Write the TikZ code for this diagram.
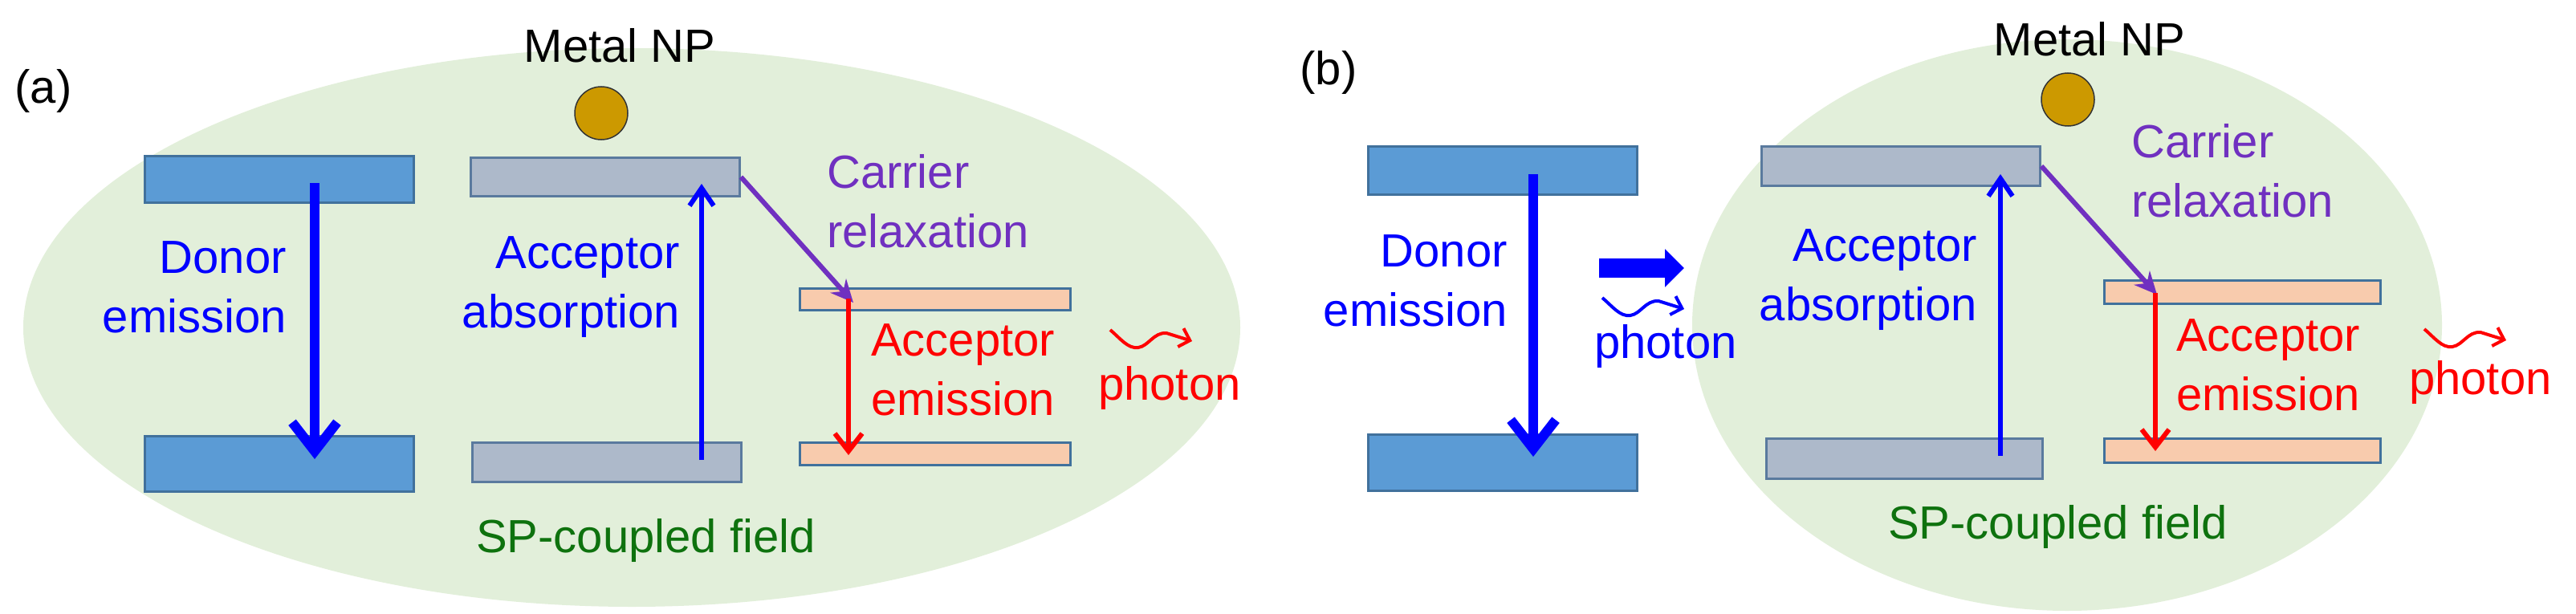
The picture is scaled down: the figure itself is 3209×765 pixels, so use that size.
\documentclass[tikz,border=0pt]{standalone}
\usepackage{fontspec}
\setmainfont{Liberation Sans}
\usetikzlibrary{arrows.meta,shapes.geometric}
\definecolor{fieldg}{HTML}{E2EFDA}
\definecolor{donb}{HTML}{5B9BD5}
\definecolor{donbd}{HTML}{41719C}
\definecolor{accg}{HTML}{ADB9CA}
\definecolor{accgd}{HTML}{5A7A9E}
\definecolor{orng}{HTML}{F8CBAD}
\definecolor{npc}{HTML}{CC9900}
\definecolor{purp}{HTML}{7030C0}
\definecolor{dgreen}{HTML}{0E720E}
\tikzset{
  lbl/.style={font=\fontsize{58}{74}\selectfont, inner sep=0},
  rl/.style={lbl, align=right, anchor=east},
  ll/.style={lbl, align=left, anchor=west},
  bar/.style={line width=3pt, inner sep=0, anchor=north west},
  donbar/.style={bar, draw=donbd, fill=donb},
  accbar/.style={bar, draw=accgd, fill=accg},
  orbar/.style={bar, draw=donbd, fill=orng},
  field/.style={fill=fieldg, draw=none},
  np/.style={circle, fill=npc, draw=black!80, line width=1.5pt, minimum size=66pt, inner sep=0},
  donarr/.style={blue, line width=12pt, -{Straight Barb[length=36pt,width=56pt,line width=12pt]}},
  absarr/.style={blue, line width=6pt, -{Straight Barb[length=22pt,width=30pt,line width=6pt]}},
  relarr/.style={purp, line width=6pt, -{Stealth[length=28pt,width=26pt]}},
  emarr/.style={red, line width=6pt, -{Straight Barb[length=22pt,width=34pt,line width=6pt]}},
  wave/.style={line width=4pt, -{Straight Barb[length=12pt,width=24pt,line width=4pt]}},
}
\newcommand{\photonwave}[2]{%
  \draw[wave, #2, shift={(#1)}] (0,0) .. controls (12,10) and (22,24) .. (35,22) .. controls (48,20) and (54,3) .. (70,4) -- (102,14);}
\begin{document}
\begin{tikzpicture}[x=1pt,y=-1pt]
\useasboundingbox (0,0) rectangle (3209,765);
% ---------------- panel a
\fill[field] (787,408) ellipse[x radius=758, y radius=348];
\node[lbl] (la) at (54,113) {(a)};
\node[lbl] (mna) at (772,57) {Metal NP};
\node[np] (npa) at (749,141) {};
\node[donbar, minimum width=335pt, minimum height=58pt] (dta) at (179,193) {};
\node[donbar, minimum width=335pt, minimum height=69pt] (dba) at (179,542) {};
\node[accbar, minimum width=335pt, minimum height=48pt] (ata) at (585,195) {};
\node[accbar, minimum width=335pt, minimum height=49pt] (aba) at (587,550) {};
\node[orbar, minimum width=337pt, minimum height=27pt] (ota) at (995,358) {};
\node[orbar, minimum width=337pt, minimum height=28pt] (oba) at (995,550) {};
\coordinate (daS) at (392,228);
\coordinate (daE) at (392,572);
\draw[donarr] (daS) -- (daE);
\coordinate (aaS) at (874,573);
\coordinate (aaE) at (874,229);
\draw[absarr] (aaS) -- (aaE);
\coordinate (crS) at (ata.east);
\coordinate (crE) at (1063,377);
\draw[relarr] (crS) -- (crE);
\coordinate (eaS) at (1057,372);
\coordinate (eaE) at (1057,567);
\draw[emarr] (eaS) -- (eaE);
\node[rl, blue] (dea) at (357,358) {Donor\\emission};
\node[rl, blue] (aaa) at (847,358) {Acceptor\\absorption};
\node[ll, purp] (cra) at (1030,251) {Carrier\\relaxation};
\node[ll, red] (aea) at (1085,461) {Acceptor\\emission};
\node[ll, red] (pha) at (1368,483) {photon};
\node[lbl, dgreen, anchor=west] (spa) at (593,673) {SP-coupled field};
\photonwave{1383,411}{red}
% ---------------- panel b
\fill[field] (2575,405) ellipse[x radius=467, y radius=356];
\node[lbl] (lb) at (1655,90) {(b)};
\node[lbl] (mnb) at (2603,49) {Metal NP};
\node[np] (npb) at (2576,124) {};
\node[donbar, minimum width=335pt, minimum height=60pt] (dtb) at (1703,181) {};
\node[donbar, minimum width=335pt, minimum height=70pt] (dbb) at (1703,540) {};
\node[accbar, minimum width=347pt, minimum height=49pt] (atb) at (2193,181) {};
\node[accbar, minimum width=344pt, minimum height=50pt] (abb) at (2199,545) {};
\node[orbar, minimum width=344pt, minimum height=29pt] (otb) at (2620,348) {};
\node[orbar, minimum width=344pt, minimum height=30pt] (obb) at (2620,545) {};
\coordinate (dbS) at (1910,217);
\coordinate (dbE) at (1910,569);
\draw[donarr] (dbS) -- (dbE);
\coordinate (abS) at (2492,568);
\coordinate (abE) at (2492,217);
\draw[absarr] (abS) -- (abE);
\coordinate (crbE) at (2687,367);
\draw[relarr] (atb.east) -- (crbE);
\coordinate (ebS) at (2685,365);
\coordinate (ebE) at (2685,562);
\draw[emarr] (ebS) -- (ebE);
\coordinate (tbS) at (1992,334);
\coordinate (tbE) at (2098,334);
\draw[blue, line width=24pt, -{Triangle[length=24pt,width=46pt]}] (tbS) -- (tbE);
\photonwave{1996,371}{blue}
\node[rl, blue] (deb) at (1878,350) {Donor\\emission};
\node[ll, blue] (phb) at (1986,432) {photon};
\node[rl, blue] (aab) at (2463,349) {Acceptor\\absorption};
\node[ll, purp] (crb) at (2655,213) {Carrier\\relaxation};
\node[ll, red] (aeb) at (2711,455) {Acceptor\\emission};
\node[ll, red] (phc) at (3001,476) {photon};
\node[lbl, dgreen, anchor=west] (spb) at (2352,656) {SP-coupled field};
\photonwave{3020,410}{red}
\end{tikzpicture}
\end{document}
